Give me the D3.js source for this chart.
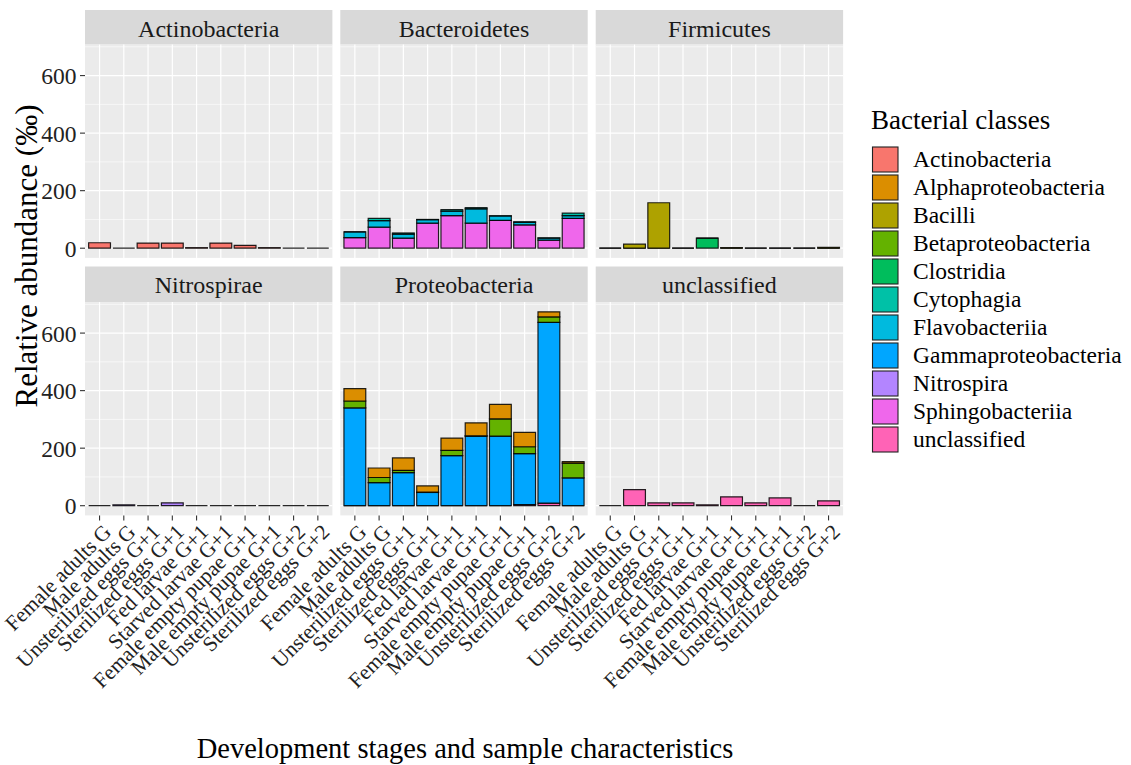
<!DOCTYPE html>
<html>
<head>
<meta charset="utf-8">
<script src="https://cdn.jsdelivr.net/npm/d3@7/dist/d3.min.js"></script>
<style>
  body { margin: 0; background: #fff; }
  text { font-family: "Liberation Serif", "Times New Roman", serif; }
</style>
</head>
<body>
<script>
// ---------------- data ----------------
const samples = ["Female adults G","Male adults G","Unsterilized eggs G+1","Sterilized eggs G+1",
  "Fed larvae G+1","Starved larvae G+1","Female empty pupae G+1","Male empty pupae G+1",
  "Unsterilized eggs G+2","Sterilized eggs G+2"];
const phyla = ["Actinobacteria","Bacteroidetes","Firmicutes","Nitrospirae","Proteobacteria","unclassified"];
const classes = ["Actinobacteria","Alphaproteobacteria","Bacilli","Betaproteobacteria","Clostridia",
  "Cytophagia","Flavobacteriia","Gammaproteobacteria","Nitrospira","Sphingobacteriia","unclassified"];
const palette = ["#F8766D","#DB8E00","#AEA200","#64B200","#00BD5C","#00C1A7","#00BADE","#00A6FF","#B385FF","#EF67EB","#FF63B6"];
const yTicks = [0, 200, 400, 600];

// values (‰) per phylum / class, one per sample
const actino_Actinobacteria   = [19, 0, 18, 18, 2, 18, 10, 2, 0, 0];
const bacte_Cytophagia        = [0, 8, 4, 1, 5, 4, 1, 2, 1, 9];
const bacte_Flavobacteriia    = [20, 23, 14, 12, 16, 50, 15, 9, 7, 9];
const bacte_Sphingobacteriia  = [37, 73, 35, 87, 113, 87, 97, 81, 28, 104];
const firmi_Bacilli           = [0, 14, 158, 0, 0, 2, 0, 0, 0, 3];
const firmi_Clostridia        = [0, 0, 0, 0, 35, 0, 0, 0, 0, 0];
const nitro_Nitrospira        = [0, 3, 0, 10, 0, 0, 0, 0, 0, 0];
const proteo_Alpha            = [43, 33, 43, 22, 43, 45, 50, 50, 18, 5];
const proteo_Beta             = [24, 18, 8, 1, 18, 1, 60, 24, 19, 51];
const proteo_Gamma            = [340, 80, 115, 46, 174, 242, 242, 177, 628, 97];
const proteo_unclassified     = [0, 0, 0, 0, 0, 0, 0, 4, 9, 0];
const uncl_unclassified       = [0, 56, 10, 10, 3, 31, 10, 27, 0, 17];

const series = [
  {phylum: "Actinobacteria", cls: "Actinobacteria", values: actino_Actinobacteria},
  {phylum: "Bacteroidetes", cls: "Cytophagia", values: bacte_Cytophagia},
  {phylum: "Bacteroidetes", cls: "Flavobacteriia", values: bacte_Flavobacteriia},
  {phylum: "Bacteroidetes", cls: "Sphingobacteriia", values: bacte_Sphingobacteriia},
  {phylum: "Firmicutes", cls: "Bacilli", values: firmi_Bacilli},
  {phylum: "Firmicutes", cls: "Clostridia", values: firmi_Clostridia},
  {phylum: "Nitrospirae", cls: "Nitrospira", values: nitro_Nitrospira},
  {phylum: "Proteobacteria", cls: "Alphaproteobacteria", values: proteo_Alpha},
  {phylum: "Proteobacteria", cls: "Betaproteobacteria", values: proteo_Beta},
  {phylum: "Proteobacteria", cls: "Gammaproteobacteria", values: proteo_Gamma},
  {phylum: "Proteobacteria", cls: "unclassified", values: proteo_unclassified},
  {phylum: "unclassified", cls: "unclassified", values: uncl_unclassified}
];

// ---------------- layout ----------------
const W = 1131, H = 765;
const colLeft = [85, 340.3, 595.7];
const panelW = 247.4;
const stripTop = [10, 266.5];
const panelTop = [44.6, 302.1];
const panelH = 213.3;

const color = d3.scaleOrdinal().domain(classes).range(palette);

// stacking (ggplot: first level on top)
const stacked = [];
phyla.forEach(p => {
  const rows = series.filter(s => s.phylum === p)
    .sort((a, b) => classes.indexOf(b.cls) - classes.indexOf(a.cls)); // bottom first
  samples.forEach((s, i) => {
    let cum = 0;
    rows.forEach(r => {
      const v = r.values[i];
      stacked.push({phylum: p, cls: r.cls, sample: s, y0: cum, y1: cum + v});
      cum += v;
    });
  });
});
const M = d3.max(stacked, d => d.y1);

const x = d3.scaleBand().domain(samples).range([0, panelW]).paddingInner(0.1).paddingOuter(0.15);
const y = d3.scaleLinear().domain([-0.05 * M, 1.05 * M]).range([panelH, 0]);
const minorTicks = [100, 300, 500, 700].filter(v => v <= 1.05 * M);

const svg = d3.select("body").append("svg").attr("width", W).attr("height", H);
svg.append("rect").attr("width", W).attr("height", H).attr("fill", "#fff");

phyla.forEach((p, k) => {
  const c = k % 3, r = Math.floor(k / 3);
  const px = colLeft[c], py = panelTop[r];

  // strip
  svg.append("rect").attr("x", px).attr("y", stripTop[r]).attr("width", panelW)
    .attr("height", panelTop[r] - stripTop[r]).attr("fill", "#D9D9D9");
  svg.append("text").attr("x", px + panelW / 2).attr("y", stripTop[r] + 26.5)
    .attr("text-anchor", "middle").attr("font-size", 24).attr("fill", "#1A1A1A").text(p);

  const g = svg.append("g").attr("transform", `translate(${px},${py})`);
  g.append("rect").attr("width", panelW).attr("height", panelH).attr("fill", "#EBEBEB");
  // minor grid
  g.selectAll(".minor").data(minorTicks).join("line")
    .attr("x1", 0).attr("x2", panelW).attr("y1", d => y(d)).attr("y2", d => y(d))
    .attr("stroke", "#fff").attr("stroke-width", 0.6);
  // major grid
  g.selectAll(".majh").data(yTicks).join("line")
    .attr("x1", 0).attr("x2", panelW).attr("y1", d => y(d)).attr("y2", d => y(d))
    .attr("stroke", "#fff").attr("stroke-width", 1.2);
  g.selectAll(".majv").data(samples).join("line")
    .attr("x1", d => x(d) + x.bandwidth() / 2).attr("x2", d => x(d) + x.bandwidth() / 2)
    .attr("y1", 0).attr("y2", panelH)
    .attr("stroke", "#fff").attr("stroke-width", 1.2);

  // bars (paths so zero-height segments still draw a line)
  const segs = stacked.filter(d => d.phylum === p);
  g.selectAll(".seg").data(segs).join("path")
    .attr("d", d => {
      const x0 = x(d.sample), x1 = x0 + x.bandwidth();
      const ya = y(d.y0), yb = y(d.y1);
      return `M${x0},${ya}H${x1}V${yb}H${x0}Z`;
    })
    .attr("fill", d => color(d.cls))
    .attr("stroke", "#000").attr("stroke-width", 1.2).attr("stroke-opacity", 0.85);

  // y axis (left column)
  if (c === 0) {
    yTicks.forEach(t => {
      svg.append("line").attr("x1", px - 5).attr("x2", px).attr("y1", py + y(t)).attr("y2", py + y(t))
        .attr("stroke", "#333").attr("stroke-width", 1.1);
      svg.append("text").attr("x", px - 8.5).attr("y", py + y(t) + 8.5)
        .attr("text-anchor", "end").attr("font-size", 23.5).attr("fill", "#222").text(t);
    });
  }
  // x axis (bottom row)
  if (r === 1) {
    samples.forEach(s => {
      const cx = px + x(s) + x.bandwidth() / 2;
      svg.append("line").attr("x1", cx).attr("x2", cx).attr("y1", py + panelH).attr("y2", py + panelH + 5)
        .attr("stroke", "#333").attr("stroke-width", 1.1);
      svg.append("text").attr("transform", `translate(${cx + 2},${py + panelH + 7}) rotate(-45)`)
        .attr("text-anchor", "end").attr("dy", "0.72em").attr("font-size", 21.3)
        .attr("fill", "#222").text(s);
    });
  }
});

// axis titles
svg.append("text").attr("x", 465).attr("y", 758).attr("text-anchor", "middle")
  .attr("font-size", 28.5).attr("fill", "#000").text("Development stages and sample characteristics");
svg.append("text").attr("transform", "translate(37,256) rotate(-90)").attr("text-anchor", "middle")
  .attr("font-size", 31).attr("fill", "#000").text("Relative abundance (‰)");

// legend
const lg = svg.append("g");
lg.append("text").attr("x", 871).attr("y", 129).attr("font-size", 27).attr("fill", "#000").text("Bacterial classes");
classes.forEach((cl, i) => {
  const ky = 147 + i * 28;
  lg.append("rect").attr("x", 872.5).attr("y", ky).attr("width", 25.5).attr("height", 25)
    .attr("fill", color(cl)).attr("stroke", "#222").attr("stroke-width", 1.1);
  lg.append("text").attr("x", 913).attr("y", ky + 20).attr("font-size", 23.5).attr("fill", "#000").text(cl);
});
</script>
</body>
</html>
